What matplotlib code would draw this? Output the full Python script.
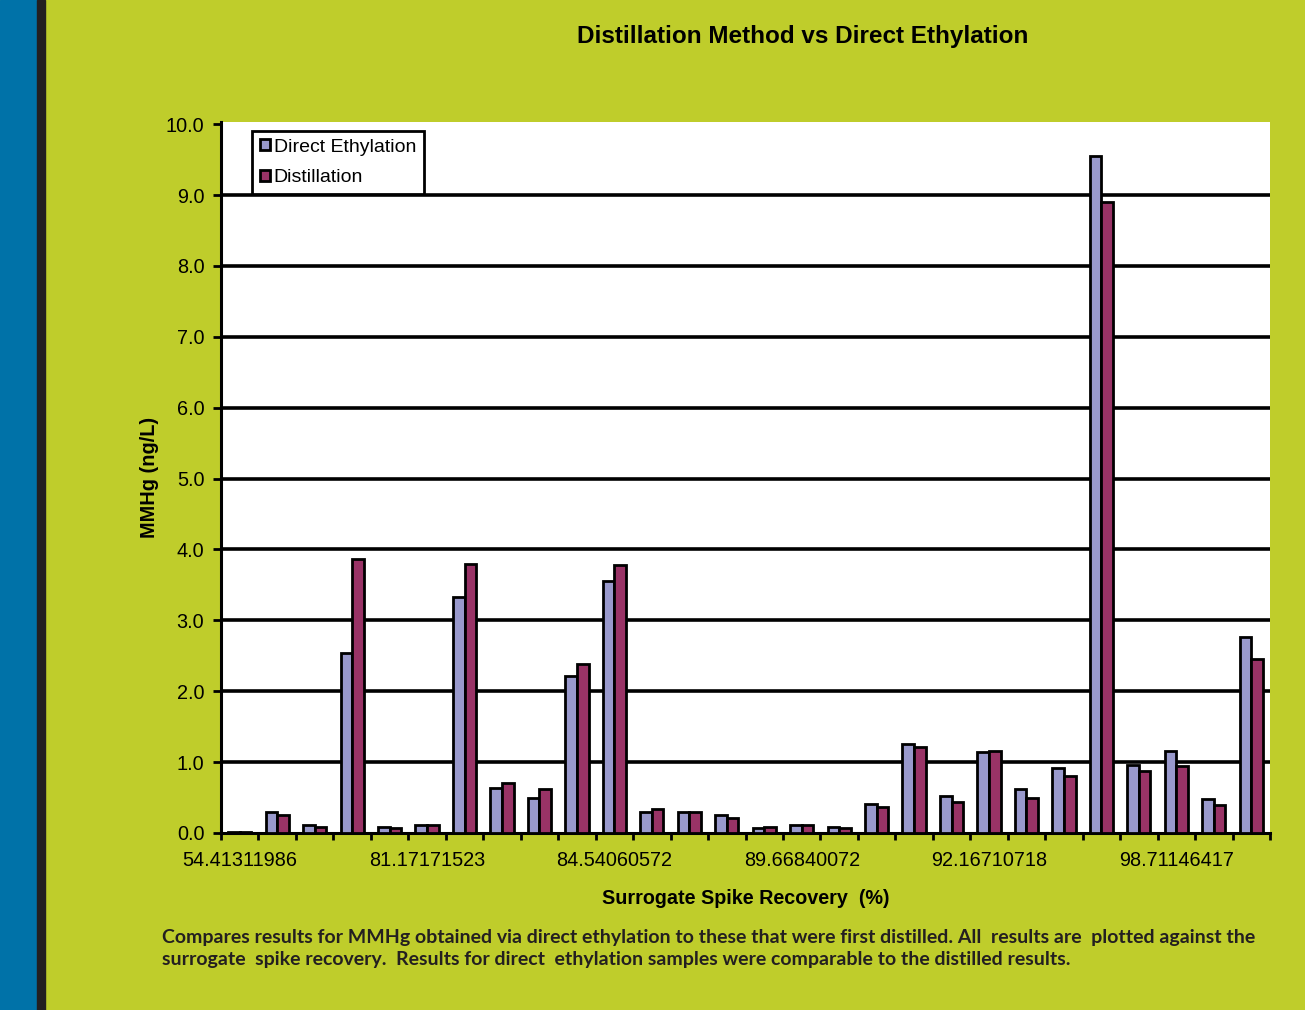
import numpy as np
import matplotlib.pyplot as plt
from matplotlib.patches import Rectangle

plt.rcParams['font.family'] = 'Liberation Sans'

# MMHg (ng/L) per sample, sorted by surrogate spike recovery
direct_ethylation = [0.01, 0.30, 0.11, 2.54, 0.09, 0.11, 3.33, 0.63, 0.50, 2.21,
                     3.56, 0.30, 0.30, 0.25, 0.07, 0.11, 0.09, 0.41, 1.25, 0.52,
                     1.14, 0.62, 0.92, 9.55, 0.96, 1.16, 0.48, 2.76]
distillation = [0.01, 0.26, 0.08, 3.86, 0.07, 0.11, 3.80, 0.70, 0.62, 2.38,
                3.78, 0.34, 0.30, 0.21, 0.09, 0.11, 0.07, 0.37, 1.22, 0.44,
                1.16, 0.49, 0.81, 8.90, 0.88, 0.94, 0.39, 2.45]
# only every 5th recovery value is labelled on the axis
recovery_labels = ['54.41311986', '81.17171523', '84.54060572',
                   '89.66840072', '92.16710718', '98.71146417']

green = '#bfcd2b'
blue = '#9999cc'
plum = '#993366'

fig = plt.figure(figsize=(13.05, 10.1), dpi=100, facecolor=green)
# side stripes
fig.patches.append(Rectangle((0, 0), 37/1305, 1, transform=fig.transFigure,
                             color='#0072a8', zorder=0))
fig.patches.append(Rectangle((37/1305, 0), 8/1305, 1, transform=fig.transFigure,
                             color='#231f20', zorder=0))

ax = fig.add_axes([221/1305, 1-833/1010, (1270-221)/1305, (833-122)/1010])
ax.set_facecolor('white')

n = len(direct_ethylation)
x = np.arange(n)
w = 0.31
ax.bar(x - w/2, direct_ethylation, w, color=blue, edgecolor='black',
       linewidth=2, label='Direct Ethylation', zorder=3)
ax.bar(x + w/2, distillation, w, color=plum, edgecolor='black',
       linewidth=2, label='Distillation', zorder=3)

ax.set_xlim(-0.5, n - 0.5)
ax.set_ylim(0, 10.03)
ax.set_yticks(np.arange(0, 10.5, 1.0))
ax.set_yticklabels([f'{v:.1f}' for v in np.arange(0, 10.5, 1.0)], fontsize=14.3)
for v in range(1, 10):
    ax.axhline(v, color='black', linewidth=2.6, zorder=1)

ax.set_xticks(np.arange(0, n, 5))
ax.set_xticklabels(recovery_labels, fontsize=14.3)
ax.set_xticks(np.arange(-0.5, n, 1), minor=True)
ax.tick_params(axis='x', which='major', length=0, pad=13)
ax.tick_params(axis='x', which='minor', length=5, width=2, direction='out')
ax.tick_params(axis='y', length=6, width=2, direction='out', pad=6)

for s in ['top', 'right']:
    ax.spines[s].set_visible(False)
for s in ['left', 'bottom']:
    ax.spines[s].set_linewidth(2.2)

ax.set_xlabel('Surrogate Spike Recovery  (%)', fontsize=14.2, fontweight='bold',
              labelpad=14)
ax.set_ylabel('MMHg (ng/L)', fontsize=14.3, fontweight='bold', labelpad=5)

leg = ax.legend(loc='upper left', bbox_to_anchor=(0.026, 0.993), fontsize=14,
                frameon=True, fancybox=False, handlelength=0.5, handleheight=0.5,
                handletextpad=0.2, borderpad=0.4, labelspacing=0.7,
                borderaxespad=0.2)
leg.get_frame().set_edgecolor('black')
leg.get_frame().set_linewidth(2)
leg.get_frame().set_alpha(1)

fig.text(803/1305, 1-36/1010, 'Distillation Method vs Direct Ethylation',
         fontsize=17.5, fontweight='bold', ha='center', va='center')

caption = ('Compares results for MMHg obtained via direct ethylation to these that were first distilled. All  results are  plotted against the\n'
           'surrogate  spike recovery.  Results for direct  ethylation samples were comparable to the distilled results.')
fig.text(162/1305, 1-929/1010, caption, fontsize=14, fontweight='bold',
         family='Lato', color='#231f20', ha='left', va='top', linespacing=1.33)

fig.savefig('out.png', dpi=100, facecolor=green)
